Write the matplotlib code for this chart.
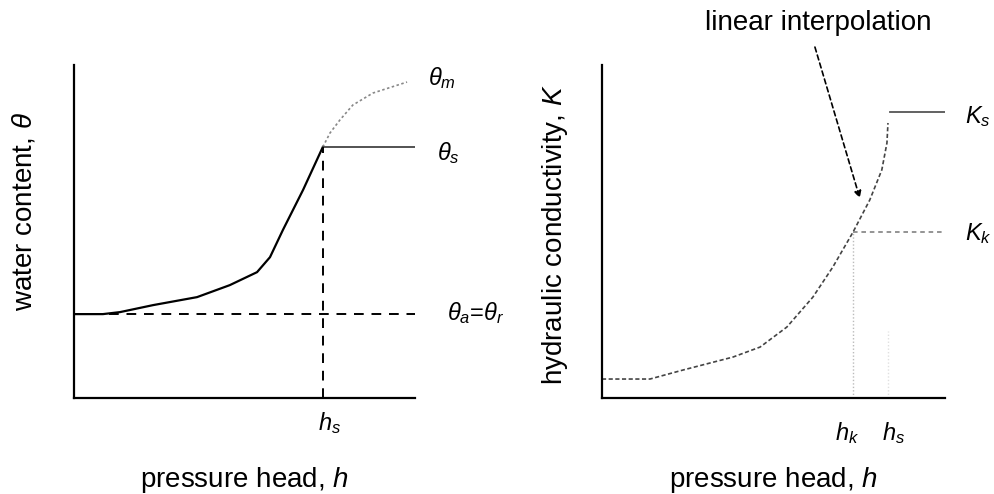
import numpy as np
import matplotlib.pyplot as plt

plt.rcParams["font.family"] = ["Liberation Sans", "DejaVu Sans"]
plt.rcParams["mathtext.fontset"] = "custom"
plt.rcParams["mathtext.rm"] = "Liberation Sans"
plt.rcParams["mathtext.it"] = "Liberation Sans:italic"

# retention curve (left), normalised units
h_ret = [0.0, 0.085, 0.135, 0.232, 0.361, 0.457, 0.537, 0.575, 0.613, 0.672, 0.73]
theta_ret = [0.252, 0.252, 0.258, 0.279, 0.303, 0.339, 0.378, 0.423, 0.505, 0.625, 0.754]
h_ext = [0.73, 0.751, 0.78, 0.818, 0.877, 0.977]
theta_ext = [0.754, 0.796, 0.835, 0.88, 0.916, 0.949]
h_s = 0.73
theta_s = 0.754
theta_r = 0.252

# conductivity curve (right)
h_cond = [0.0, 0.14, 0.236, 0.382, 0.461, 0.539, 0.615, 0.673, 0.732, 0.781, 0.816, 0.831, 0.834]
k_cond = [0.057, 0.057, 0.084, 0.123, 0.153, 0.213, 0.303, 0.393, 0.498, 0.595, 0.685, 0.766, 0.826]
h_k, K_k = 0.732, 0.498
h_s2, K_s = 0.834, 0.859

fig = plt.figure(figsize=(9.94, 4.94), dpi=100)
ax1 = fig.add_axes([0.0744, 0.1943, 0.343, 0.674])
ax2 = fig.add_axes([0.6056, 0.1943, 0.345, 0.674])

fs = 20
fsym = 17

for ax in (ax1, ax2):
    ax.set_xlim(0, 1)
    ax.set_ylim(0, 1)
    ax.spines[["top", "right"]].set_visible(False)
    ax.spines[["left", "bottom"]].set_linewidth(1.6)
    ax.set_xticks([])
    ax.set_yticks([])
    ax.set_xlabel("pressure head, $h$", fontsize=fs)
    ax.xaxis.set_label_coords(0.5, -0.2)

# left panel
ax1.plot(h_ret, theta_ret, color="black", lw=1.6)
ax1.plot(h_ext, theta_ext, color="#888888", lw=1.2, ls=(0, (1.5, 1.5)))
ax1.plot([h_s, 1.0], [theta_s, theta_s], color="#444444", lw=1.3)
ax1.plot([h_s, h_s], [0, theta_s], color="black", lw=1.4, ls=(0, (5, 4)))
ax1.plot([0, 1.0], [theta_r, theta_r], color="black", lw=1.4, ls=(0, (5, 4)))
ax1.set_ylabel(r"water content, $\theta$", fontsize=fs)
ax1.yaxis.set_label_coords(-0.106, 0.56)
ax1.text(1.038, 0.94, r"$\theta_m$", fontsize=fsym, va="baseline", ha="left", clip_on=False)
ax1.text(1.065, 0.715, r"$\theta_s$", fontsize=fsym, va="baseline", ha="left", clip_on=False)
ax1.text(1.094, 0.234, r"$\theta_a$=$\theta_r$", fontsize=fsym, va="baseline", ha="left",
         clip_on=False)
ax1.text(0.716, -0.096, r"$h_s$", fontsize=fsym, va="baseline", ha="left", clip_on=False)

# right panel
ax2.plot(h_cond, k_cond, color="#444444", lw=1.2, ls=(0, (2.5, 1.5)))
ax2.plot([h_s2 + 0.005, 1.0], [K_s, K_s], color="#555555", lw=1.3)
ax2.plot([h_k, 1.0], [K_k, K_k], color="#777777", lw=1.1, ls=(0, (3, 2.5)))
ax2.plot([h_k, h_k], [0, K_k], color="#bbbbbb", lw=1.0, ls=(0, (1, 1.5)))
ax2.plot([h_s2, h_s2], [0, 0.2], color="#e0e0e0", lw=1.0, ls=(0, (1, 1.5)))
ax2.set_ylabel("hydraulic conductivity, $K$", fontsize=fs)
ax2.yaxis.set_label_coords(-0.093, 0.49)
ax2.text(1.06, 0.826, r"$K_s$", fontsize=fsym, va="baseline", ha="left", clip_on=False)
ax2.text(1.06, 0.474, r"$K_k$", fontsize=fsym, va="baseline", ha="left", clip_on=False)
ax2.text(0.679, -0.126, r"$h_k$", fontsize=fsym, va="baseline", ha="left", clip_on=False)
ax2.text(0.816, -0.126, r"$h_s$", fontsize=fsym, va="baseline", ha="left", clip_on=False)
ax2.text(0.63, 1.126, "linear interpolation", fontsize=fs, ha="center", va="center",
         clip_on=False)
ax2.annotate("", xy=(0.752, 0.6), xytext=(0.621, 1.054), annotation_clip=False,
             arrowprops=dict(arrowstyle="-|>", color="black", lw=1.2, ls=(0, (3, 2)),
                             shrinkA=0, shrinkB=0, mutation_scale=10))

fig.savefig("out.png", dpi=100)
